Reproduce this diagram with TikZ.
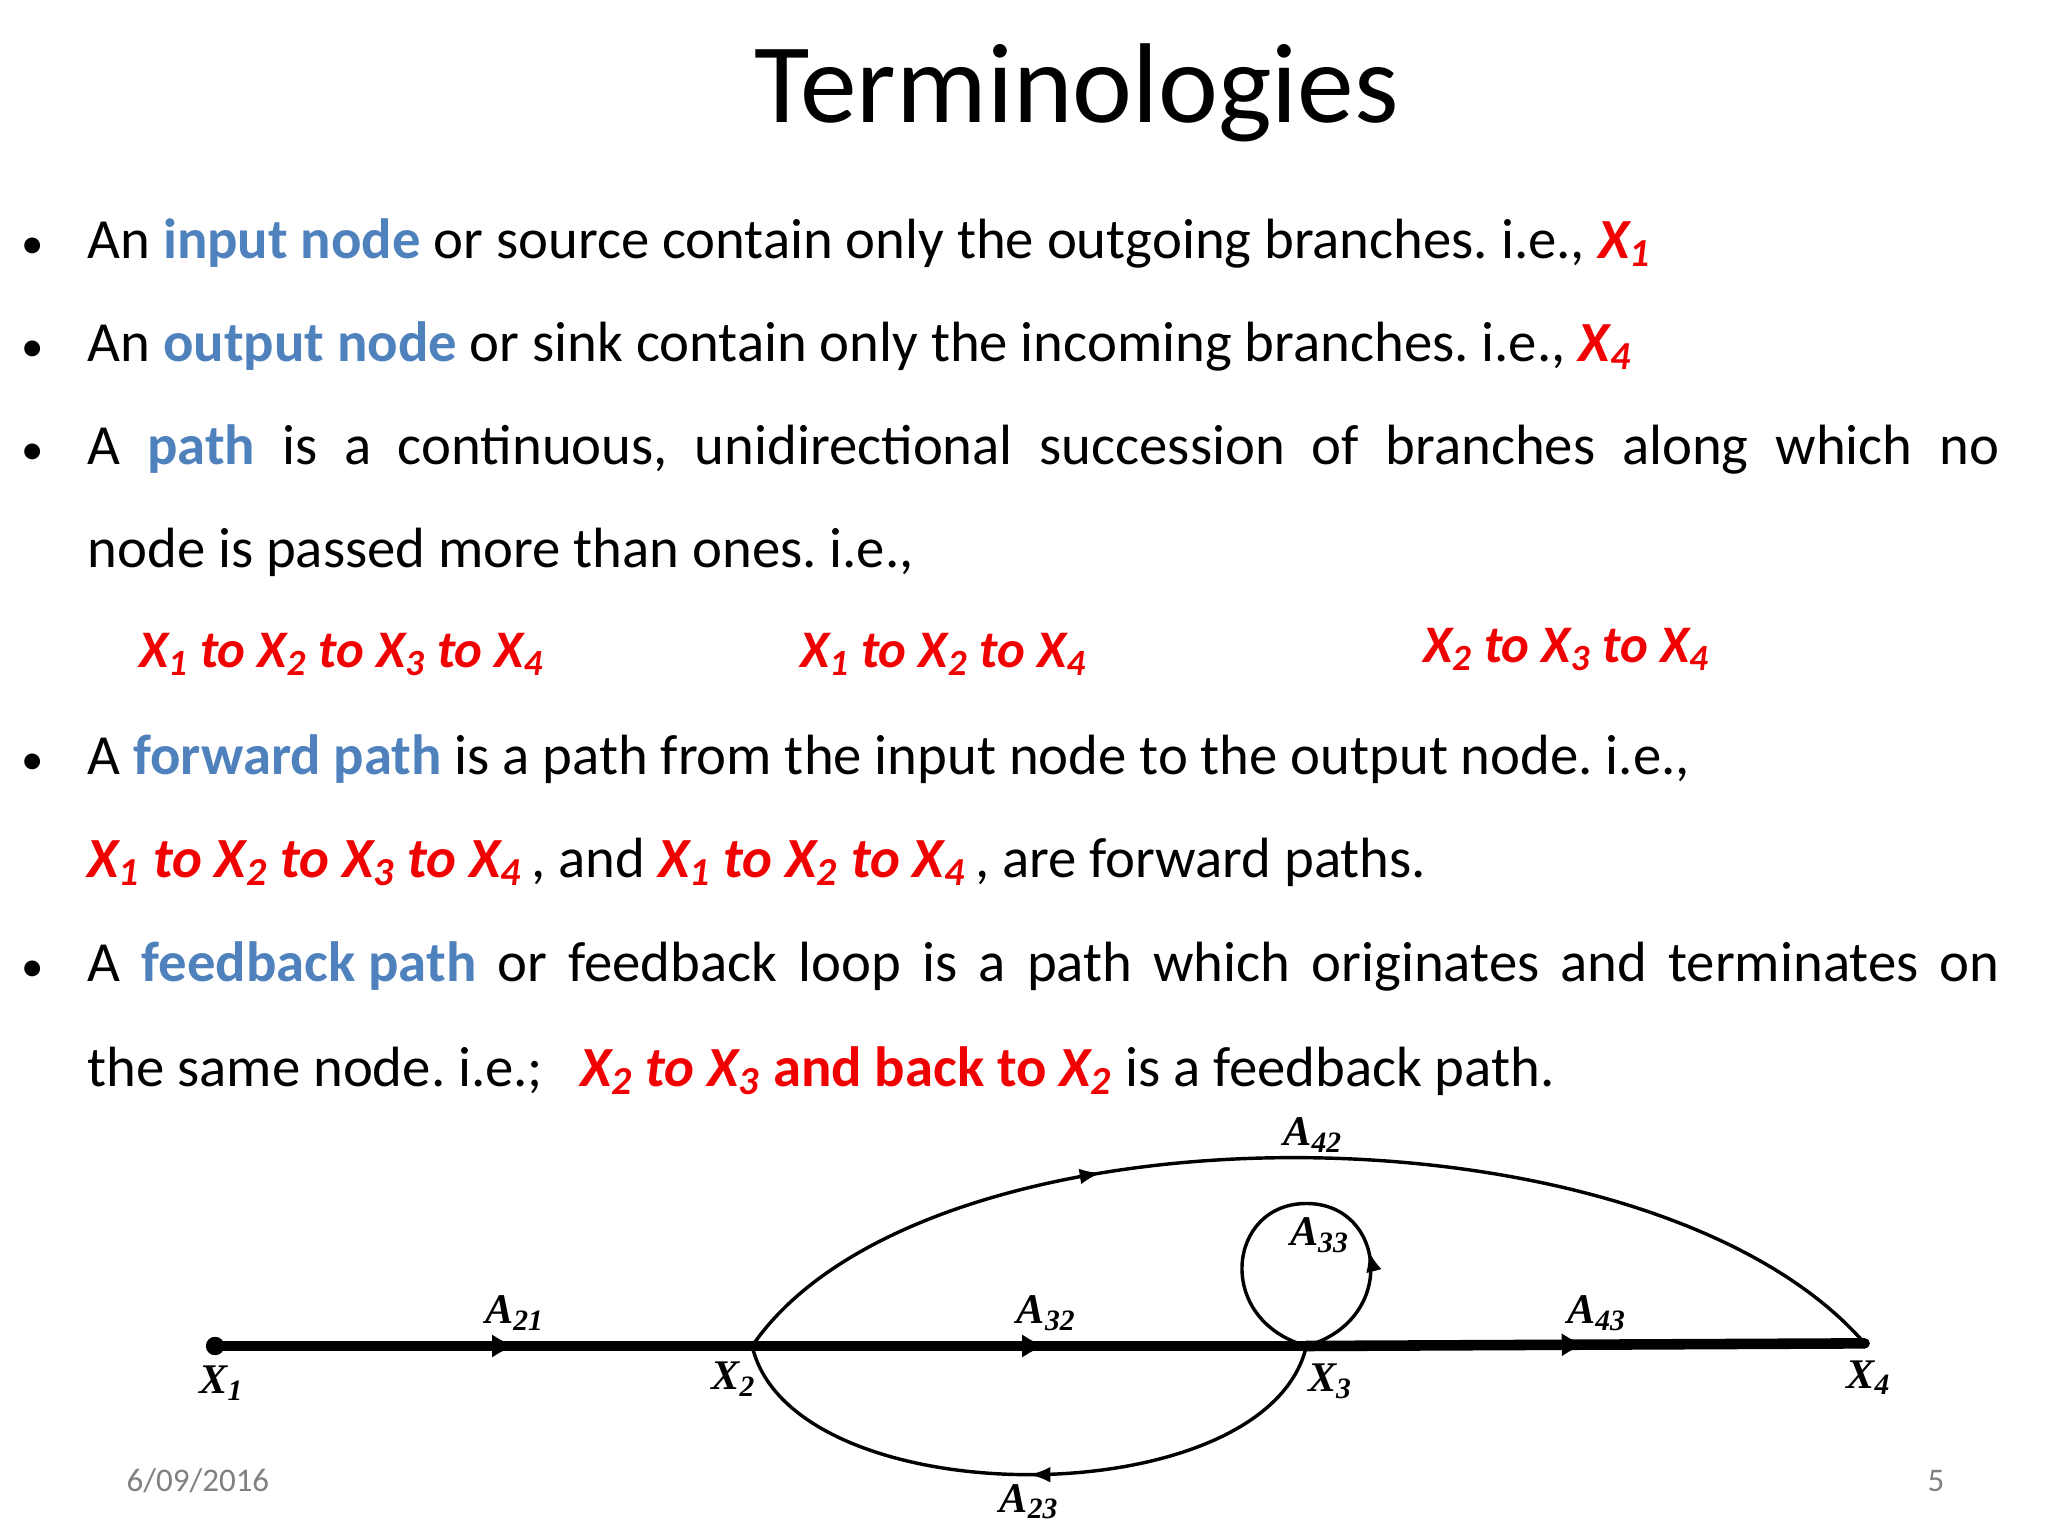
\documentclass[tikz,border=0pt]{standalone}
\usepackage{fontspec}
\setmainfont{Carlito}
\newfontfamily\dfont{Liberation Serif}
\usetikzlibrary{decorations.markings,arrows.meta}
\definecolor{kblue}{RGB}{79,129,189}
\definecolor{kred}{RGB}{240,0,0}
\newcommand{\kb}[1]{\textcolor{kblue}{\textbf{#1}}}
\newcommand{\kr}[1]{\textcolor{kred}{\textbf{\textit{#1}}}}
\newcommand{\xs}[1]{X\textsubscript{#1}}
\frenchspacing
\begin{document}
\begin{tikzpicture}[x=0.5pt,y=-0.5pt,
  line/.style={anchor=base west,inner sep=0pt,font=\fontsize{21.5}{24}\selectfont},
  bul/.style={anchor=base,inner sep=0pt,font=\fontsize{17}{20}\selectfont},
  dlab/.style={inner sep=0pt,font=\dfont\bfseries\itshape\fontsize{16}{18}\selectfont},
  dot/.style={circle,fill=black,inner sep=0pt,minimum size=7pt},
  arc/.style={line width=1.3pt},
  mark arrow/.style={postaction={decorate},decoration={markings,mark=at position #1 with {\arrow{Latex[length=8pt,width=6pt]}}}},
  big arrow/.style={postaction={decorate},decoration={markings,mark=at position #1 with {\arrow{Latex[length=9pt,width=9pt]}}}}]
\useasboundingbox (0,0) rectangle (1552,1164);
\node[inner sep=0pt,font=\fontsize{43}{46}\selectfont] (title) at (816,70) {Terminologies};
% bullets
\foreach \n/\y in {b1/196,b2/274,b3/352,b4/587,b5/744}{\node[bul] (\n) at (25,\y) {•};}
\node[line] (l1) at (66,196) {An \kb{input node} or source contain only the outgoing branches. i.e., \kr{\xs{1}}};
\node[line] (l2) at (66,274) {An \kb{output node} or sink contain only the incoming branches. i.e., \kr{\xs{4}}};
\node[line] (l3) at (66,352) {\makebox[724.5pt][s]{A\hfill\kb{path}\hfill is\hfill a\hfill continuous,\hfill unidirectional\hfill succession\hfill of\hfill branches\hfill along\hfill which\hfill no}};
\node[line] (l4) at (66,430) {node is passed more than ones. i.e.,};
\node[line,font=\fontsize{20}{22}\selectfont] (p1) at (105,506) {\kr{\xs1 to \xs2 to \xs3 to \xs4}};
\node[line,font=\fontsize{20}{22}\selectfont] (p2) at (606,506) {\kr{\xs1 to \xs2 to \xs4}};
\node[line,font=\fontsize{20}{22}\selectfont] (p3) at (1078,502) {\kr{\xs2 to \xs3 to \xs4}};
\node[line] (l5) at (66,587) {A \kb{forward path} is a path from the input node to the output node. i.e.,};
\node[line] (l6) at (66,665) {\kr{\xs1 to \xs2 to \xs3 to \xs4}\,, and \kr{\xs1 to \xs2 to \xs4}\,, are forward paths.};
\node[line] (l7) at (66,744) {\makebox[724.5pt][s]{A\hfill\kb{feedback path}\hfill or\hfill feedback\hfill loop\hfill is\hfill a\hfill path\hfill which\hfill originates\hfill and\hfill terminates\hfill on}};
\node[line] (l8) at (66,823) {the same node. i.e.;\hspace{14pt}\textcolor{kred}{\textbf{\textit{\xs2 to \xs3} and back to \textit{\xs2}}} is a feedback path.};
% diagram
\node[dot] (x1) at (163,1020) {};
\node[dot,minimum size=4pt] (x2) at (570,1020) {};
\node[dot,minimum size=4pt] (x3) at (990,1020) {};
\node[dot,minimum size=4pt] (x4) at (1413,1018) {};
\draw[line width=4pt,big arrow=0.56] (x1.center) -- (x2.center);
\draw[line width=4pt,big arrow=0.53] (x2.center) -- (x3.center);
\draw[line width=4pt,big arrow=0.5] (x3.center) -- (x4.center);
\draw[arc,mark arrow=0.33] (x2.center) .. controls (700,830) and (1250,830) .. (x4.center);
\draw[arc,mark arrow=0.5] (x3.center) .. controls (960,1150) and (600,1150) .. (x2.center);
\draw[arc,mark arrow=0.3] (x3.center) .. controls (1060,1000) and (1050,912) .. (990,912) .. controls (930,912) and (920,1000) .. (x3.center);
\node[dlab] (a21) at (390,995) {A\textsubscript{21}};
\node[dlab] (a32) at (793,995) {A\textsubscript{32}};
\node[dlab] (a43) at (1210,995) {A\textsubscript{43}};
\node[dlab] (a42) at (995,860) {A\textsubscript{42}};
\node[dlab] (a33) at (1000,936) {A\textsubscript{33}};
\node[dlab] (a23) at (780,1138) {A\textsubscript{23}};
\node[dlab] (lx1) at (168,1048) {X\textsubscript{1}};
\node[dlab] (lx2) at (556,1045) {X\textsubscript{2}};
\node[dlab] (lx3) at (1008,1047) {X\textsubscript{3}};
\node[dlab] (lx4) at (1416,1044) {X\textsubscript{4}};
\node[inner sep=0pt,text=gray,font=\fontsize{12.5}{14}\selectfont] (date) at (150,1122) {6/09/2016};
\node[inner sep=0pt,text=gray,font=\fontsize{12.5}{14}\selectfont] (pg) at (1467,1122) {5};
\end{tikzpicture}
\end{document}
